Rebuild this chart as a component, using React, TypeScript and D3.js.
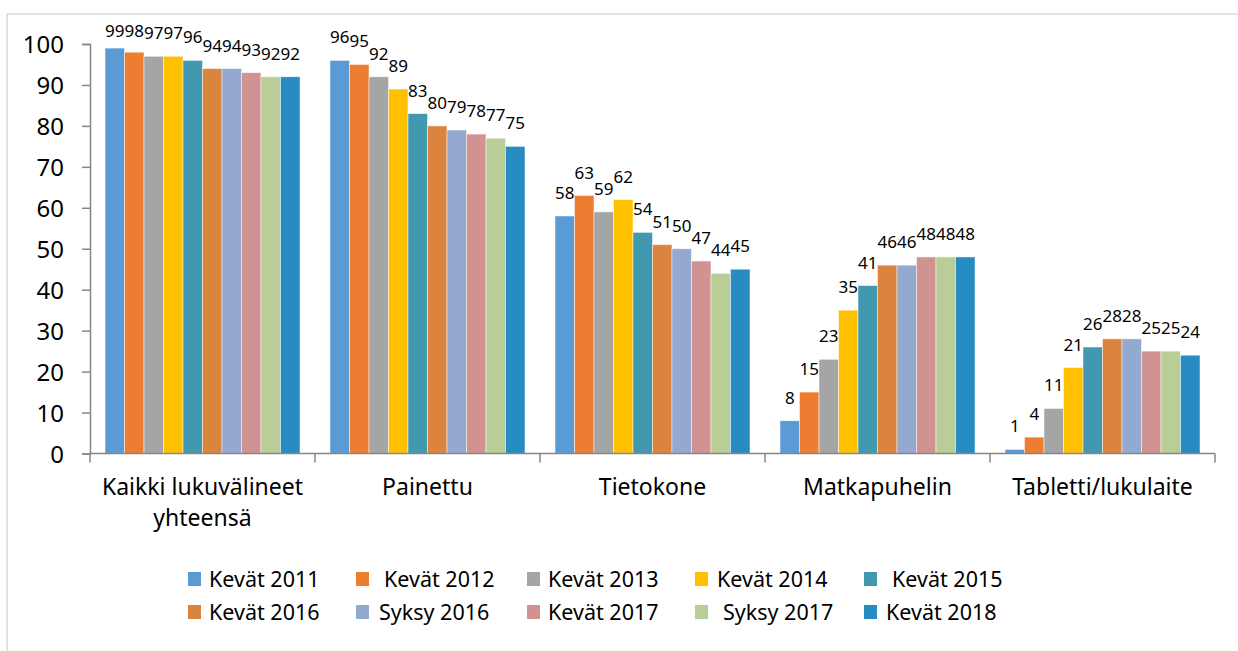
import { useRef, useEffect } from 'react'
import * as d3 from 'd3'

const categories = ['Kaikki lukuvälineet|yhteensä', 'Painettu', 'Tietokone', 'Matkapuhelin', 'Tabletti/lukulaite']
const seriesNames = [
  'Kevät 2011', 'Kevät 2012', 'Kevät 2013', 'Kevät 2014', 'Kevät 2015',
  'Kevät 2016', 'Syksy 2016', 'Kevät 2017', 'Syksy 2017', 'Kevät 2018',
]
const seriesColors = [
  '#5b9bd5', '#ed7d31', '#a5a5a5', '#ffc000', '#4298af',
  '#db843d', '#93a9cf', '#d19392', '#b9cd96', '#268cc2',
]
// values per category, one per series
const kaikki = [99, 98, 97, 97, 96, 94, 94, 93, 92, 92]
const painettu = [96, 95, 92, 89, 83, 80, 79, 78, 77, 75]
const tietokone = [58, 63, 59, 62, 54, 51, 50, 47, 44, 45]
const matkapuhelin = [8, 15, 23, 35, 41, 46, 46, 48, 48, 48]
const tabletti = [1, 4, 11, 21, 26, 28, 28, 25, 25, 24]
const values = [kaikki, painettu, tietokone, matkapuhelin, tabletti]
const yTicks = [0, 10, 20, 30, 40, 50, 60, 70, 80, 90, 100]

// legend layout (Excel placed them in a 5 x 2 grid)
const legendMarkerX = [188, 356, 527, 695, 864]
const legendTextX = [
  [209, 384, 548, 717, 892],
  [209, 379, 548, 723, 886],
]
const legendRowY = [579, 612]

const FONT = '"Noto Sans", "Open Sans", sans-serif'
const AXIS = '#868686'

export default function App() {
  const svgRef = useRef<SVGSVGElement>(null)

  useEffect(() => {
    if (!svgRef.current) return
    const svg = d3.select(svgRef.current)
    svg.selectAll('*').remove()

    const W = 1238
    const H = 651

    svg.append('rect').attr('width', W).attr('height', H).attr('fill', '#fff')
    // chart frame
    svg
      .append('rect')
      .attr('x', 7)
      .attr('y', 14)
      .attr('width', W + 20)
      .attr('height', H + 20)
      .attr('fill', 'none')
      .attr('stroke', '#d9d9d9')
      .attr('stroke-width', 1.5)

    const left = 90
    const right = 1215
    const y0 = 453.5

    const x0 = d3.scaleBand<number>().domain(d3.range(categories.length)).range([left, right]).padding(0)
    const gap = x0.bandwidth() * 0.0667
    const x1 = d3
      .scaleBand<number>()
      .domain(d3.range(seriesNames.length))
      .range([gap, x0.bandwidth() - gap])
      .padding(0)
    const y = d3.scaleLinear().domain([0, 100]).range([y0, y0 - 409.5])

    // bars
    const groups = svg
      .selectAll('g.cat')
      .data(values)
      .join('g')
      .attr('class', 'cat')
      .attr('transform', (_, i) => `translate(${x0(i)},0)`)

    groups
      .selectAll('rect')
      .data((d) => d)
      .join('rect')
      .attr('x', (_, j) => x1(j)!)
      .attr('y', (d) => y(d))
      .attr('width', x1.bandwidth())
      .attr('height', (d) => y0 - y(d))
      .attr('fill', (_, j) => seriesColors[j])
      .attr('stroke', '#ffffff')
      .attr('stroke-opacity', 0.6)
      .attr('stroke-width', 0.8)

    // data labels
    groups
      .selectAll('text')
      .data((d) => d)
      .join('text')
      .attr('x', (_, j) => x1(j)! + x1.bandwidth() / 2)
      .attr('y', (d) => Math.max(y(d) - 17, 37))
      .attr('text-anchor', 'middle')
      .attr('font-family', FONT)
      .attr('font-size', 17)
      .attr('fill', '#000')
      .text((d) => d)

    // y axis
    const yAxis = svg
      .append('g')
      .attr('transform', `translate(${left},0)`)
      .call(d3.axisLeft(y).tickValues(yTicks).tickSize(8).tickPadding(18))
    yAxis.select('.domain').attr('stroke', AXIS).attr('stroke-width', 1.5)
    yAxis.selectAll('.tick line').attr('stroke', AXIS).attr('stroke-width', 1.5)
    yAxis
      .selectAll('.tick text')
      .attr('font-family', FONT)
      .attr('font-size', 24)
      .attr('fill', '#000')
      .attr('dy', '0.36em')

    // x axis
    svg
      .append('line')
      .attr('x1', left)
      .attr('x2', right)
      .attr('y1', y0)
      .attr('y2', y0)
      .attr('stroke', AXIS)
      .attr('stroke-width', 1.5)
    const bounds = [...d3.range(categories.length).map((i) => x0(i)!), right]
    svg
      .selectAll('line.xtick')
      .data(bounds)
      .join('line')
      .attr('class', 'xtick')
      .attr('x1', (d) => d)
      .attr('x2', (d) => d)
      .attr('y1', y0)
      .attr('y2', y0 + 9)
      .attr('stroke', AXIS)
      .attr('stroke-width', 1.5)

    const catLabels = svg
      .selectAll('text.cat')
      .data(categories)
      .join('text')
      .attr('class', 'cat')
      .attr('x', (_, i) => x0(i)! + x0.bandwidth() / 2)
      .attr('y', 495)
      .attr('text-anchor', 'middle')
      .attr('font-family', FONT)
      .attr('font-size', 23)
      .attr('fill', '#000')
    catLabels
      .selectAll('tspan')
      .data((d) => d.split('|'))
      .join('tspan')
      .attr('x', function () {
        return (this.parentNode as SVGTextElement).getAttribute('x')
      })
      .attr('dy', (_, i) => (i === 0 ? 0 : 31))
      .text((d) => d)

    // legend
    const legend = svg
      .selectAll('g.legend')
      .data(seriesNames)
      .join('g')
      .attr('class', 'legend')
    legend
      .append('rect')
      .attr('x', (_, i) => legendMarkerX[i % 5])
      .attr('y', (_, i) => legendRowY[Math.floor(i / 5)] - 7)
      .attr('width', 13)
      .attr('height', 14)
      .attr('fill', (_, i) => seriesColors[i])
    legend
      .append('text')
      .attr('x', (_, i) => legendTextX[Math.floor(i / 5)][i % 5])
      .attr('y', (_, i) => legendRowY[Math.floor(i / 5)] + 8)
      .attr('font-family', FONT)
      .attr('font-size', 21.5)
      .attr('fill', '#000')
      .text((d) => d)
  }, [])

  return (
    <svg
      ref={svgRef}
      width={1238}
      height={651}
      style={{ position: 'absolute', left: 0, top: 0, display: 'block' }}
    />
  )
}
